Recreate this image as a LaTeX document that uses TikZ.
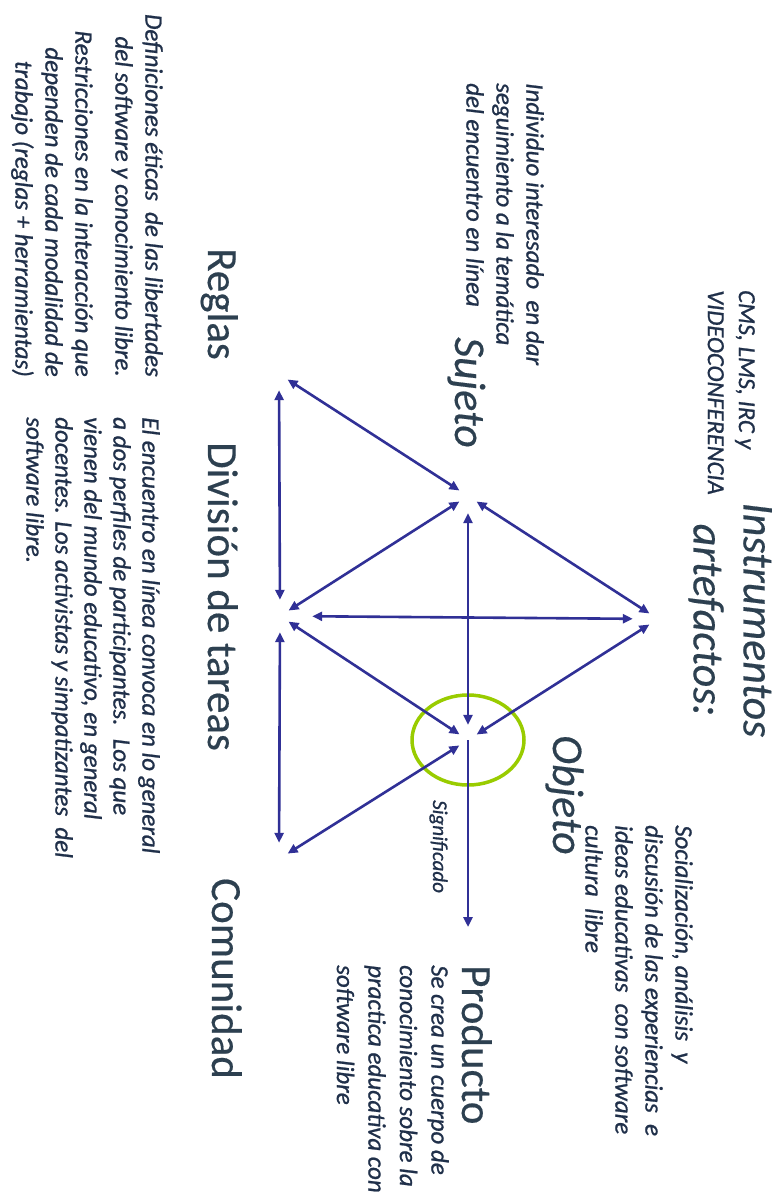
\documentclass[tikz,border=0pt]{standalone}
\usepackage{fontspec}
\setmainfont{Carlito}
\newfontfamily\titlefont[FakeBold=0.4]{Carlito}
\newfontfamily\descfont[FakeBold=0.9]{Carlito}
\usetikzlibrary{arrows.meta}
\definecolor{arrc}{RGB}{48,48,150}
\definecolor{ringc}{RGB}{153,204,0}
\definecolor{ttl}{RGB}{45,64,80}
\definecolor{dsc}{RGB}{32,48,74}
\begin{document}
\begin{tikzpicture}[x=1pt,y=-1pt,
  >={Triangle[length=10pt,width=9pt]},
  vtx/.style={circle,minimum size=20pt,inner sep=0pt},
  arr/.style={draw=arrc,line width=2.6pt,<->},
  arrone/.style={draw=arrc,line width=2.6pt,->},
  rt/.style={rotate=-90,inner sep=0pt},
  title/.style={rt,text=ttl,font=\titlefont\fontsize{43}{50}\selectfont},
  ititle/.style={rt,text=ttl,font=\titlefont\fontsize{44}{50}\selectfont\itshape},
  desc/.style={rt,text=dsc,font=\descfont\fontsize{25}{30}\selectfont\itshape},
  small/.style={rt,text=dsc,font=\descfont\fontsize{24.5}{31}\selectfont\itshape},
  tiny/.style={rt,text=dsc,font=\descfont\fontsize{21}{25}\selectfont\itshape}
]
\fill[white] (0,0) rectangle (776,1194);
\useasboundingbox (0,0) rectangle (776,1194);

% texts
\node[ititle,anchor=north,align=center] (instr) at (772,620) {Instrumentos\\artefactos:};
\node[small,anchor=north west,align=left] (cms) at (755,290) {CMS, LMS, IRC y\\VIDEOCONFERENCIA};
\node[desc,anchor=north west,align=left] (indiv) at (544,83) {Individuo interesado~ en dar\\seguimiento a la temática\\del encuentro en línea};
\node[ititle,anchor=base west] (suj) at (455,337) {Sujeto};
\node[title,anchor=base west] (reg) at (208,248) {Reglas};
\node[title,anchor=base west] (div) at (208,442) {División de tareas};
\node[title,anchor=base west] (com) at (212,878) {Comunidad};
\node[ititle,anchor=base west] (obj) at (553,735) {Objeto};
\node[title,anchor=base west] (prod) at (462,965) {Producto};
\node[desc,font=\descfont\fontsize{25}{31.5}\selectfont\itshape,anchor=north west,align=left] (prodd) at (449,965) {Se crea un cuerpo de\\conocimiento sobre la\\practica educativa con\\software libre};
\node[desc,anchor=north west,align=left] (soc) at (693,825) {Socialización, análisis~ y\\discusión de las experiencias~ e\\ideas educativas~ con software\\cultura~ libre};
\node[desc,font=\descfont\fontsize{25}{29}\selectfont\itshape,anchor=north west,align=left] (enc) at (160,417) {El encuentro en línea convoca en lo general\\a dos perfiles de participantes.~ Los que\\vienen del mundo educativo, en general\\docentes. Los activistas y simpatizantes~ del\\software libre.};
\node[desc,anchor=north east,align=right] (def) at (163,377) {Definiciones éticas~ de las libertades\\del software y conocimiento libre.\\[10pt]Restricciones en la interacción que\\dependen de cada modalidad de\\trabajo (reglas + herramientas)};
\node[tiny,anchor=base west] (sig) at (433,800) {Significado};

% vertices
\node[vtx] (S) at (468,496) {};
\node[vtx] (I) at (658,619) {};
\node[vtx] (D) at (280,616) {};
\node[vtx] (R) at (279,374) {};
\node[vtx] (C) at (279,859) {};
\node[vtx] (O) at (468,740) {};
\coordinate (P) at (468,927);

\draw[ringc,line width=3.5pt] (O.center) ellipse [x radius=56,y radius=45];

% connectors
\draw[arr] (R) -- (S);
\draw[arr,shorten <=6pt,shorten >=6pt] (R) -- (D);
\draw[arr] (S) -- (D);
\draw[arr] (S) -- (I);
\draw[arr,shorten <=7pt,shorten >=5pt] (S) -- (O);
\draw[arr,shorten <=15pt,shorten >=22pt] (I) -- (D);
\draw[arr] (I) -- (O);
\draw[arr] (D) -- (O);
\draw[arr,shorten <=6pt,shorten >=6pt] (D) -- (C);
\draw[arr] (O) -- (C);
\draw[arrone] (O.center) -- (P);
\end{tikzpicture}
\end{document}
